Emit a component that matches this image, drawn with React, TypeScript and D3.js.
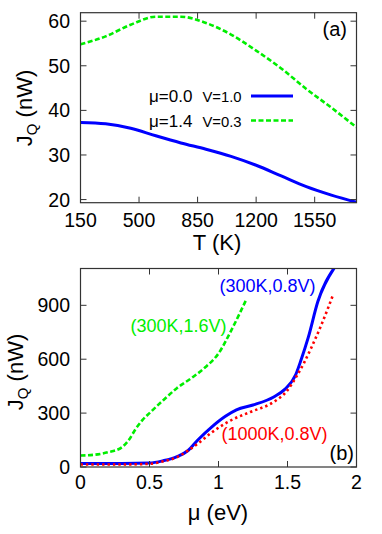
import * as d3 from "d3";

// panel (a): heat current vs temperature
const tempK = [150, 300, 450, 600, 750, 900, 1050, 1200, 1350, 1500, 1650, 1800];
const jqMu00 = [37.3, 37.0, 36.0, 34.3, 32.7, 31.3, 29.7, 27.7, 25.3, 22.9, 21.0, 19.4];
const jqMu14 = [54.8, 56.6, 59.2, 61.0, 61.0, 59.6, 57.0, 53.4, 49.4, 44.8, 40.6, 36.2];
const tempTicks = [150, 500, 850, 1200, 1550];
const jqTicksA = [20, 30, 40, 50, 60];

// panel (b): heat current vs chemical potential
const muGreen = [0, 0.1, 0.2, 0.3, 0.35, 0.4, 0.45, 0.5, 0.6, 0.7, 0.8, 0.9, 1.0, 1.1, 1.2];
const jq300K16V = [64, 68, 82, 110, 150, 212, 262, 300, 372, 440, 493, 552, 632, 772, 930];
const muBlue = [0, 0.3, 0.5, 0.6, 0.7, 0.78, 0.85, 0.95, 1.05, 1.13, 1.25, 1.4, 1.48, 1.56, 1.6, 1.65, 1.72, 1.84];
const jq300K08V = [20, 20, 22, 35, 58, 92, 150, 222, 282, 318, 345, 390, 432, 515, 600, 720, 921, 1110];
const muRed = [0, 0.3, 0.5, 0.6, 0.7, 0.78, 0.85, 0.94, 1.09, 1.23, 1.4, 1.49, 1.57, 1.62, 1.67, 1.75, 1.83];
const jq1000K08V = [14, 14, 18, 32, 55, 92, 130, 186, 260, 306, 362, 418, 511, 580, 660, 800, 958];
const muTicks = [0, 0.5, 1, 1.5, 2];
const jqTicksB = [0, 300, 600, 900];

const font = "'Liberation Sans', Arial, Helvetica, sans-serif";
const tickLen = 6;

function zip(xs: number[], ys: number[]) {
  return xs.map((x, i) => [x, ys[i]] as [number, number]);
}

function Frame(props: any) {
  const { x0, x1, y0, y1, xs, ys, xTicks, yTicks, labelY } = props;
  return (
    <g>
      {xTicks.map((t: number, i: number) => {
        const x = xs(t);
        return (
          <g key={"x" + i}>
            <line x1={x} x2={x} y1={y1} y2={y1 - tickLen} stroke="#333" />
            <line x1={x} x2={x} y1={y0} y2={y0 + tickLen} stroke="#333" />
            <text x={x} y={labelY} fontSize="19.5" textAnchor="middle" fill="#000">{String(t)}</text>
          </g>
        );
      })}
      {yTicks.map((t: number, i: number) => {
        const y = ys(t);
        return (
          <g key={"y" + i}>
            <line x1={x0} x2={x0 + tickLen} y1={y} y2={y} stroke="#333" />
            <line x1={x1} x2={x1 - tickLen} y1={y} y2={y} stroke="#333" />
            <text x={70} y={y + 7} fontSize="19.5" textAnchor="end" fill="#000">{t}</text>
          </g>
        );
      })}
      <rect x={x0} y={y0} width={x1 - x0} height={y1 - y0} fill="none" stroke="#333" strokeWidth="1.2" />
    </g>
  );
}

function YLabel(props: any) {
  return (
    <text transform={`translate(${props.x},${props.y}) rotate(-90)`} fontSize="22" textAnchor="middle" fill="#000">
      J<tspan fontSize="15" dy="5">Q</tspan><tspan dy="-5"> (nW)</tspan>
    </text>
  );
}

function PanelA() {
  const x0 = 80.5, x1 = 356.5, y0 = 12.7, y1 = 202.7;
  const xs = d3.scaleLinear().domain([150, 1800]).range([x0, x1]);
  const ys = d3.scaleLinear().domain([19.3, 61.9]).range([y1, y0]);
  const line = d3.line<[number, number]>()
    .x((d) => xs(d[0]))
    .y((d) => ys(d[1]))
    .curve(d3.curveMonotoneX);

  return (
    <g>
      <defs>
        <clipPath id="clipA"><rect x={x0} y={y0} width={x1 - x0} height={y1 - y0} /></clipPath>
      </defs>
      <g clipPath="url(#clipA)">
        <path d={line(zip(tempK, jqMu14)) || ""} fill="none" stroke="#00ee00" strokeWidth="2.6" strokeDasharray="5,2.5" />
        <path d={line(zip(tempK, jqMu00)) || ""} fill="none" stroke="#0000ff" strokeWidth="3" />
      </g>
      {/* legend */}
      <text x={149} y={102} fontSize="17" fill="#000">μ=0.0</text>
      <text x={202.5} y={102} fontSize="14.8" fill="#000">V=1.0</text>
      <line x1={251} x2={293} y1={96} y2={96} stroke="#0000ff" strokeWidth="3" />
      <text x={149} y={127} fontSize="17" fill="#000">μ=1.4</text>
      <text x={202.5} y={127} fontSize="14.8" fill="#000">V=0.3</text>
      <line x1={251} x2={293} y1={120.5} y2={120.5} stroke="#00ee00" strokeWidth="2.6" strokeDasharray="5,2.5" />
      <text x={347} y={36} fontSize="20" textAnchor="end" fill="#000">(a)</text>
      <Frame x0={x0} x1={x1} y0={y0} y1={y1} xs={xs} ys={ys} xTicks={tempTicks} yTicks={jqTicksA} labelY={226.7} />
      <text x={217} y={250} fontSize="22" textAnchor="middle" fill="#000">T (K)</text>
      <YLabel x={32} y={108} />
    </g>
  );
}

function PanelB() {
  const x0 = 80.5, x1 = 356.5, y0 = 268.5, y1 = 467;
  const xs = d3.scaleLinear().domain([0, 2]).range([x0, x1]);
  const ys = d3.scaleLinear().domain([0, 1105]).range([y1, y0]);
  const line = d3.line<[number, number]>()
    .x((d) => xs(d[0]))
    .y((d) => ys(d[1]))
    .curve(d3.curveMonotoneX);

  return (
    <g>
      <defs>
        <clipPath id="clipB"><rect x={x0} y={y0} width={x1 - x0} height={y1 - y0} /></clipPath>
      </defs>
      <g clipPath="url(#clipB)">
        <path d={line(zip(muGreen, jq300K16V)) || ""} fill="none" stroke="#00ee00" strokeWidth="2.6" strokeDasharray="5,2.5" />
        <path d={line(zip(muBlue, jq300K08V)) || ""} fill="none" stroke="#0000ff" strokeWidth="3" />
        <path d={line(zip(muRed, jq1000K08V)) || ""} fill="none" stroke="#ff0000" strokeWidth="2.6" strokeDasharray="2.4,3" />
      </g>
      <text x={267.5} y={292} fontSize="18" textAnchor="middle" fill="#0000ff">(300K,0.8V)</text>
      <text x={178.5} y={331.5} fontSize="18" textAnchor="middle" fill="#00ee00">(300K,1.6V)</text>
      <text x={274.5} y={440} fontSize="18" textAnchor="middle" fill="#ff0000">(1000K,0.8V)</text>
      <text x={354} y={460} fontSize="20" textAnchor="end" fill="#000">(b)</text>
      <Frame x0={x0} x1={x1} y0={y0} y1={y1} xs={xs} ys={ys} xTicks={muTicks} yTicks={jqTicksB} labelY={489} />
      <text x={218} y={520} fontSize="22" textAnchor="middle" fill="#000">μ (eV)</text>
      <YLabel x={23} y={372} />
    </g>
  );
}

export default function App() {
  return (
    <svg width={382} height={534} style={{ position: "absolute", left: 0, top: 0, background: "#fff" }} fontFamily={font}>
      <rect width={382} height={534} fill="#fff" />
      <PanelA />
      <PanelB />
    </svg>
  );
}
